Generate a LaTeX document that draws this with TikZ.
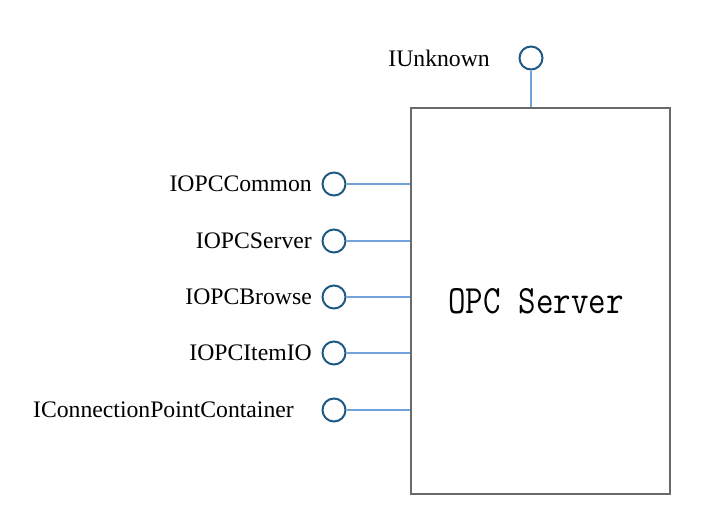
\documentclass[tikz,border=0pt]{standalone}
\usepackage{fontspec}
\setmainfont{Liberation Serif}
\usetikzlibrary{calc}
\definecolor{ringblue}{HTML}{1F5A85}
\definecolor{lineblue}{HTML}{6FA3DA}
\definecolor{boxgray}{HTML}{6A6A6A}
\begin{document}
\begin{tikzpicture}[x=1pt,y=-1pt,
  iface/.style={circle,draw=ringblue,line width=2pt,minimum size=23pt,inner sep=0pt,fill=white},
  lbl/.style={anchor=east,inner sep=0pt,font=\fontsize{23.7}{28}\selectfont},
  conn/.style={draw=lineblue,line width=2pt},
  serverbox/.style={draw=boxgray,line width=1.2pt,minimum width=259pt,minimum height=386pt,inner sep=0pt}]
\useasboundingbox (0,0) rectangle (702,517);
\node[serverbox] (box) at (540.5,301) {};
\node[font=\ttfamily\fontsize{34}{39}\selectfont] (title) at (536,301) {\scalebox{1}[1.18]{OPC Server}};
\node[iface] (u) at (531,58) {};
\node[lbl] (ul) at (490,58) {IUnknown};
\draw[conn] (u.south) -- (u.south |- box.north);
\node[iface] (c1) at (334,184) {};
\node[iface] (c2) at (334,241) {};
\node[iface] (c3) at (334,297) {};
\node[iface] (c4) at (334,353) {};
\node[iface] (c5) at (334,410) {};
\node[lbl] (l1) at (312,184) {IOPCCommon};
\node[lbl] (l2) at (312,241) {IOPCServer};
\node[lbl] (l3) at (312,297) {IOPCBrowse};
\node[lbl] (l4) at (312,353) {IOPCItemIO};
\node[lbl] (l5) at (294,410) {IConnectionPointContainer};
\foreach \c in {c1,c2,c3,c4,c5}
  \draw[conn] (\c.east) -- (\c.east -| box.west);
\end{tikzpicture}
\end{document}
